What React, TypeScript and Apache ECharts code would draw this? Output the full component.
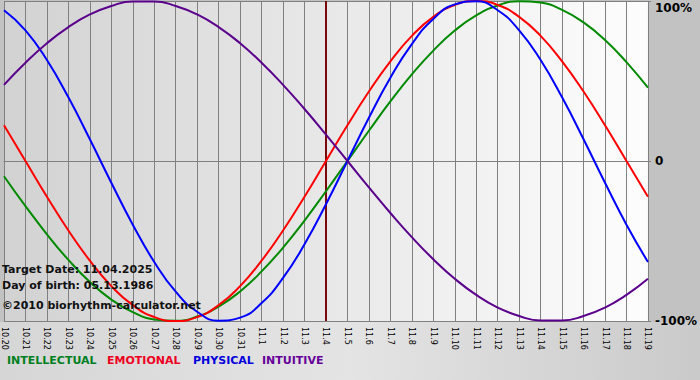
import React, { useEffect, useRef } from 'react';
import * as echarts from 'echarts';

const categories = [
  '10.20', '10.21', '10.22', '10.23', '10.24', '10.25', '10.26', '10.27', '10.28', '10.29', '10.30', '10.31',
  '11.1', '11.2', '11.3', '11.4', '11.5', '11.6', '11.7', '11.8', '11.9', '11.10', '11.11', '11.12', '11.13',
  '11.14', '11.15', '11.16', '11.17', '11.18', '11.19',
];

const intellectual = [
  -9.5, -28.2, -45.8, -61.8, -75.6, -86.6, -94.5, -99.0, -99.9, -97.2, -91.0, -81.5, -69.0, -54.1, -37.2, -18.9,
  0, 18.9, 37.2, 54.1, 69.0, 81.5, 91.0, 97.2, 99.9, 99.0, 94.5, 86.6, 75.6, 61.8, 45.8,
];
const emotional = [
  22.3, 0, -22.3, -43.4, -62.3, -78.2, -90.1, -97.5, -100, -97.5, -90.1, -78.2, -62.3, -43.4, -22.3, 0,
  22.3, 43.4, 62.3, 78.2, 90.1, 97.5, 100, 97.5, 90.1, 78.2, 62.3, 43.4, 22.3, 0, -22.3,
];
const physical = [
  94.2, 81.7, 63.1, 39.8, 13.6, -13.6, -39.8, -63.1, -81.7, -94.2, -99.8, -97.9, -88.8, -73.1, -52.0, -27.0,
  0, 27.0, 52.0, 73.1, 88.8, 97.9, 99.8, 94.2, 81.7, 63.1, 39.8, 13.6, -13.6, -39.8, -63.1,
];
const intuitive = [
  47.6, 61.4, 73.6, 83.7, 91.6, 96.9, 99.7, 99.7, 96.9, 91.6, 83.7, 73.6, 61.4, 47.6, 32.5, 16.5,
  0, -16.5, -32.5, -47.6, -61.4, -73.6, -83.7, -91.6, -96.9, -99.7, -99.7, -96.9, -91.6, -83.7, -73.6,
];

const targetDay = '11.4';
const infoLines = ['Target Date: 11.04.2025', 'Day of birth: 05.13.1986', '©2010 biorhythm-calculator.net'];
const legendNames = ['INTELLECTUAL', 'EMOTIONAL', 'PHYSICAL', 'INTUITIVE'];

const FONT = '"DejaVu Sans", Verdana, sans-serif';
const lineColors = ['#008a00', '#ff0000', '#0000ff', '#5a008c'];
const legendColors = ['#008020', '#ee0022', '#0000dd', '#660099'];

export default function App() {
  const ref = useRef<HTMLDivElement>(null);
  useEffect(() => {
    const chart = echarts.init(ref.current!, null, { renderer: 'svg' });
    const mk = (name: string, data: number[], color: string, extra: any = {}) => ({
      name,
      type: 'line',
      data,
      smooth: true,
      symbol: 'none',
      lineStyle: { color, width: 2 },
      itemStyle: { color },
      z: 3,
      ...extra,
    });
    const legendX = [7, 107, 193, 262];
    chart.setOption({
      animation: false,
      backgroundColor: '#c2c2c2',
      grid: {
        left: 2,
        right: 50,
        top: 1,
        bottom: 59,
        containLabel: false,
        show: true,
        borderWidth: 0,
        backgroundColor: {
          type: 'linear', x: 0, y: 0, x2: 1, y2: 0,
          colorStops: [
            { offset: 0, color: '#d2d2d2' },
            { offset: 0.5, color: '#e8e8e8' },
            { offset: 1, color: '#fdfdfd' },
          ],
        },
      },
      xAxis: {
        type: 'category',
        data: categories,
        boundaryGap: false,
        axisLine: { lineStyle: { color: '#808080', width: 1 } },
        axisTick: { show: true, length: 4, lineStyle: { color: '#808080' } },
        axisLabel: {
          rotate: -90,
          interval: 0,
          fontSize: 8,
          color: '#000',
          fontFamily: FONT,
          margin: 6,
        },
        splitLine: { show: true, lineStyle: { color: '#808080', width: 1 } },
      },
      yAxis: {
        type: 'value',
        position: 'right',
        min: -100,
        max: 100,
        interval: 100,
        axisLine: { show: false },
        axisTick: { show: true, length: 3, lineStyle: { color: '#808080' } },
        splitLine: { show: true, lineStyle: { color: '#808080', width: 1 } },
        axisLabel: {
          margin: 7,
          fontSize: 12,
          fontWeight: 'bold',
          color: '#000',
          fontFamily: FONT,
          formatter: (v: number) => (v === 100 ? '{top|100%}' : v === 0 ? '0' : '-100%'),
          rich: {
            top: { fontSize: 12, fontWeight: 'bold', color: '#000', fontFamily: FONT, padding: [14, 0, 0, 0] },
          },
        },
      },
      series: [
        mk('INTELLECTUAL', intellectual, lineColors[0], {
          markLine: {
            silent: true,
            symbol: 'none',
            label: { show: false },
            lineStyle: { color: '#7a0a0a', width: 2, type: 'solid' },
            data: [{ xAxis: targetDay }],
            z: 2,
          },
        }),
        mk('EMOTIONAL', emotional, lineColors[1]),
        mk('PHYSICAL', physical, lineColors[2]),
        mk('INTUITIVE', intuitive, lineColors[3]),
      ],
      graphic: [
        {
          type: 'rect',
          left: 0,
          top: 322,
          z: -10,
          silent: true,
          shape: { width: 700, height: 58 },
          style: {
            fill: {
              type: 'linear', x: 0, y: 0, x2: 1, y2: 0,
              colorStops: [
                { offset: 0, color: '#d6d6d6' },
                { offset: 0.5, color: '#e4e4e4' },
                { offset: 1, color: '#cacaca' },
              ],
            },
          },
        },
        ...infoLines.map((t, i) => ({
          type: 'text',
          left: 2,
          top: [264, 280, 300][i],
          z: 100,
          silent: true,
          style: { text: t, fill: '#111', font: `bold 11px ${FONT}` },
        })),
        ...legendNames.map((t, i) => ({
          type: 'text',
          left: legendX[i],
          top: 355,
          z: 100,
          silent: true,
          style: { text: t, fill: legendColors[i], font: `bold 11px ${FONT}` },
        })),
      ],
    });
    return () => chart.dispose();
  }, []);
  return <div ref={ref} style={{ position: 'fixed', left: 0, top: 0, width: 700, height: 380 }} />;
}
